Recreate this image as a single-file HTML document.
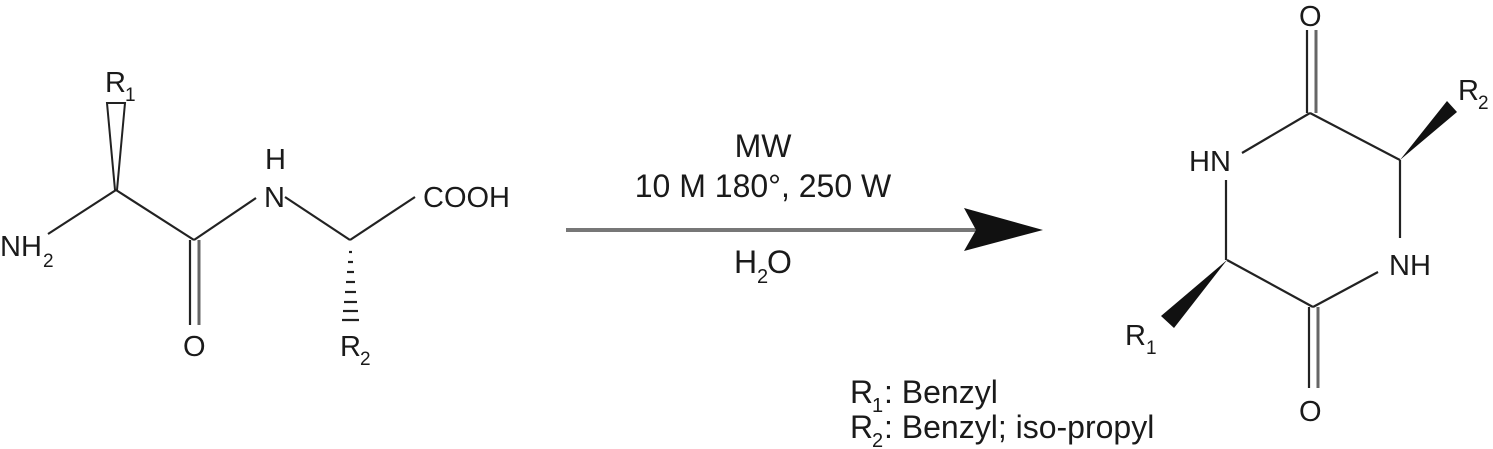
<!DOCTYPE html>
<html><head><meta charset="utf-8"><style>
html,body{margin:0;padding:0;background:#fff;}
svg{display:block;}
text{font-family:"Liberation Sans",Arial,sans-serif;fill:#1a1a1a;}
</style></head><body>
<svg width="1493" height="449" viewBox="0 0 1493 449" xmlns="http://www.w3.org/2000/svg">
<g stroke="#222" stroke-width="2.2" fill="none">
<line x1="48" y1="234" x2="116" y2="190"/>
<line x1="116" y1="190" x2="194" y2="240"/>
<line x1="194" y1="240" x2="256" y2="198"/>
<line x1="190" y1="240" x2="190" y2="325"/>
<line x1="199" y1="240" x2="199" y2="325" stroke="#666" stroke-width="3"/>
<line x1="285" y1="197" x2="350" y2="240"/>
<line x1="350" y1="240" x2="415" y2="197"/>
<polygon points="107,103 125,103 117,190 115,190" stroke-width="2"/>
<line x1="1310" y1="113" x2="1242" y2="153"/>
<line x1="1310" y1="113" x2="1400" y2="160"/>
<line x1="1226" y1="180" x2="1226" y2="260"/>
<line x1="1400" y1="160" x2="1400" y2="238"/>
<line x1="1227" y1="260" x2="1313" y2="307"/>
<line x1="1313" y1="307" x2="1378" y2="272"/>
<line x1="1307" y1="30" x2="1307" y2="113"/>
<line x1="1316" y1="30" x2="1316" y2="113" stroke="#666" stroke-width="3"/>
<line x1="1309" y1="307" x2="1309" y2="388"/>
<line x1="1318" y1="307" x2="1318" y2="388" stroke="#666" stroke-width="3"/>
</g>
<g stroke="#222" stroke-width="2.2">
<line x1="349" y1="252" x2="352" y2="252"/>
<line x1="348" y1="262" x2="353" y2="262"/>
<line x1="347" y1="272" x2="354" y2="272"/>
<line x1="346" y1="282" x2="355" y2="282"/>
<line x1="345" y1="292" x2="356" y2="292"/>
<line x1="344" y1="302" x2="357" y2="302"/>
<line x1="343" y1="311" x2="358" y2="311"/>
<line x1="342" y1="320" x2="359" y2="320"/>
</g>
<polygon points="1227,260 1174,328 1161,316" fill="#111"/>
<polygon points="1400,160 1457,112 1447,101" fill="#111"/>
<line x1="566" y1="230" x2="985" y2="230" stroke="#777" stroke-width="4"/>
<polygon points="964,208 1043,230 964,251 976,230" fill="#111"/>
<g font-size="29">
<text x="105" y="92">R</text><text x="125" y="101" font-size="19">1</text>
<text x="0" y="256">NH</text><text x="43" y="267" font-size="19">2</text>
<text x="265" y="169">H</text>
<text x="264" y="207">N</text>
<text x="423" y="207">COOH</text>
<text x="183" y="356">O</text>
<text x="340" y="356">R</text><text x="360" y="365" font-size="19">2</text>
<text x="1299" y="26">O</text>
<text x="1189" y="171">HN</text>
<text x="1389" y="275">NH</text>
<text x="1299" y="421">O</text>
<text x="1125" y="345">R</text><text x="1146" y="354" font-size="19">1</text>
<text x="1458" y="100">R</text><text x="1478" y="109" font-size="19">2</text>
</g>
<g font-size="32">
<text x="763" y="157" text-anchor="middle">MW</text>
<text x="763" y="197" text-anchor="middle">10 M 180°, 250 W</text>
<text x="734" y="273">H</text><text x="757" y="283" font-size="20">2</text><text x="767" y="273">O</text>
<text x="850" y="403">R</text><text x="872" y="412" font-size="20">1</text><text x="884" y="403">: Benzyl</text>
<text x="850" y="438">R</text><text x="872" y="447" font-size="20">2</text><text x="884" y="438">: Benzyl; iso-propyl</text>
</g>
</svg>
</body></html>
